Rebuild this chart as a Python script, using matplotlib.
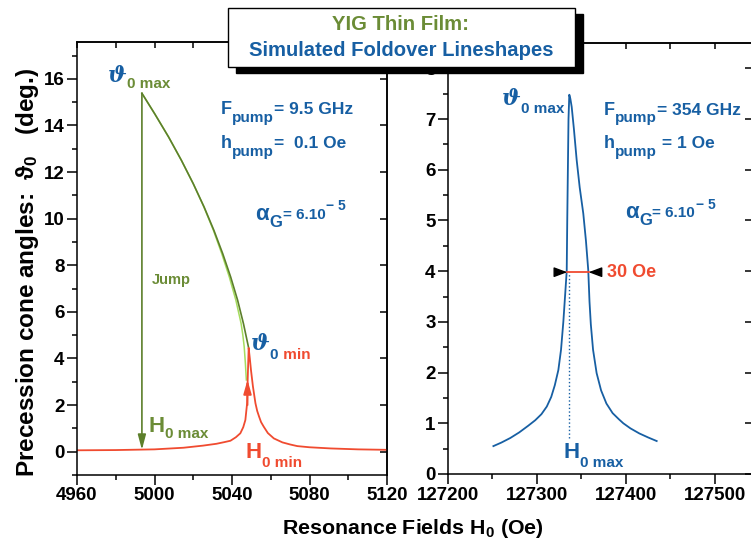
import matplotlib.pyplot as plt
from matplotlib.ticker import MultipleLocator
from matplotlib.patches import Rectangle

plt.rcParams['font.family'] = ['Liberation Sans', 'DejaVu Sans']
plt.rcParams['font.weight'] = 'bold'
plt.rcParams['mathtext.fontset'] = 'custom'
plt.rcParams['mathtext.rm'] = 'Liberation Sans:bold'
plt.rcParams['mathtext.it'] = 'Liberation Sans:bold'
plt.rcParams['mathtext.bf'] = 'Liberation Sans:bold'

BLUE = '#175fa3'
OLIVE = '#6b8c36'
DKGREEN = '#5c7f2b'
LTGREEN = '#a5dc5e'
RED = '#f04b30'
THETA_FONT = 'DejaVu Serif'

# ---- 9.5 GHz foldover (left panel) ----
red_x = [4960, 4980, 5000, 5015, 5025, 5032, 5036, 5039.2, 5042, 5044.3, 5045.8,
         5046.9, 5047.8, 5048.1, 5048.4, 5048.6, 5049.2, 5049.8, 5050.8, 5052.1,
         5053, 5054, 5055, 5056.4, 5058.5, 5061.6, 5066, 5070, 5073.7, 5080,
         5090.9, 5105, 5120]
red_y = [0.06, 0.07, 0.1, 0.17, 0.26, 0.34, 0.41, 0.47, 0.62, 0.79, 1.05,
         1.36, 2.08, 3.1, 3.9, 4.45, 4.0, 3.5, 2.8, 2.08,
         1.75, 1.5, 1.27, 1.07, 0.8, 0.57, 0.4, 0.31, 0.24, 0.19,
         0.14, 0.1, 0.08]

# stable upper branch (dark green)
upper_x = [4993.5, 5000.1, 5007.3, 5013.9, 5020.0, 5025.6, 5030.65, 5035.2,
           5039.3, 5042.9, 5045.9, 5048.6]
upper_y = [15.38, 14.5, 13.5, 12.5, 11.5, 10.5, 9.5, 8.5,
           7.5, 6.5, 5.5, 4.45]

# unstable branch (light green)
unstable_x = [4993.5, 5000.1, 5007.3, 5013.9, 5020.0, 5025.5, 5030.4, 5034.7,
              5038.6, 5042.0, 5044.7, 5045.6, 5046.3, 5046.9, 5047.4]
unstable_y = [15.38, 14.5, 13.5, 12.5, 11.5, 10.5, 9.5, 8.5,
              7.5, 6.5, 5.5, 5.0, 4.5, 3.8, 3.08]

jump_x = 4993.5
jump_top, jump_bottom = 15.38, 0.08
rise_x = 5048.0
rise_bottom, rise_top = 2.0, 3.08

# ---- 354 GHz lineshape (right panel) ----
blue_x = [127251, 127260, 127270, 127280, 127290, 127298, 127305, 127311, 127316,
          127320, 127324, 127327, 127329.6, 127331.5, 127333.4, 127334, 127334.7,
          127335.4, 127336.3, 127337.5, 127339, 127341.5, 127344.6, 127348, 127352,
          127355, 127357.6, 127359, 127360.5, 127363, 127367, 127372, 127378,
          127385, 127392, 127397, 127405, 127415, 127425, 127434.5]
blue_y = [0.55, 0.62, 0.71, 0.82, 0.95, 1.06, 1.18, 1.33, 1.52,
          1.75, 2.05, 2.45, 3.0, 3.5, 4.0, 5.0, 6.0,
          7.0, 7.48, 7.4, 7.24, 6.8, 6.19, 5.65, 5.14,
          4.6, 4.02, 3.4, 2.95, 2.45, 1.99, 1.65, 1.39,
          1.2, 1.08, 1.0, 0.9, 0.8, 0.72, 0.65]

h0max_x = 127335.6
h0max_bottom = 0.71
fwhm_y = 3.98
fwhm_left, fwhm_right = 127334, 127358


def rich(ax, x, y, segs):
    # chain text pieces left to right, dy in points from the first baseline
    prev = None
    for seg in segs:
        txt, size, color, dy = seg[:4]
        kw = dict(fontsize=size, color=color, fontweight='bold', ha='left', va='baseline')
        if len(seg) > 4:
            kw['family'] = seg[4]
            kw['style'] = 'italic'
        if prev is None:
            prev = ax.text(x, y, txt, **kw)
        else:
            prev = ax.annotate(txt, xy=(1, y), xycoords=(prev, 'data'),
                               xytext=(0.3, dy), textcoords='offset points', **kw)
    return prev


def style_axes(ax, xmaj, xmin, ymaj, ymin):
    for s in ax.spines.values():
        s.set_linewidth(1.1)
    ax.xaxis.set_major_locator(MultipleLocator(xmaj))
    ax.xaxis.set_minor_locator(MultipleLocator(xmin))
    ax.yaxis.set_major_locator(MultipleLocator(ymaj))
    ax.yaxis.set_minor_locator(MultipleLocator(ymin))
    ax.tick_params(which='both', direction='out', width=1.1, labelsize=13.5, pad=2)
    ax.tick_params(which='major', length=7)
    ax.tick_params(which='minor', length=3.5)
    top = ax.secondary_xaxis('top')
    top.xaxis.set_major_locator(MultipleLocator(xmaj))
    top.xaxis.set_minor_locator(MultipleLocator(xmin))
    top.tick_params(which='both', direction='in', width=1.1, length=4.5, labeltop=False)
    top.spines['top'].set_linewidth(1.1)
    right = ax.secondary_yaxis('right')
    right.yaxis.set_major_locator(MultipleLocator(ymaj))
    right.tick_params(which='both', direction='in', width=1.1, length=5, labelright=False)
    right.spines['right'].set_linewidth(1.1)


fig = plt.figure(figsize=(7.51, 5.47), dpi=100)
ax1 = fig.add_axes([77 / 751, 72 / 547, 310 / 751, 433 / 547])
ax2 = fig.add_axes([448 / 751, 73 / 547, 304 / 751, 431 / 547])

# left panel
ax1.plot(unstable_x, unstable_y, color=LTGREEN, lw=1.1)
ax1.plot(upper_x, upper_y, color=DKGREEN, lw=1.2)
ax1.plot(red_x, red_y, color=RED, lw=1.3)
ax1.annotate('', xy=(jump_x, jump_bottom), xytext=(jump_x, jump_top),
             arrowprops=dict(arrowstyle='-|>,head_length=0.45,head_width=0.12',
                             mutation_scale=20, color=DKGREEN, lw=1.2, shrinkA=0, shrinkB=0))
ax1.annotate('', xy=(rise_x, rise_top), xytext=(rise_x, rise_bottom),
             arrowprops=dict(arrowstyle='-|>,head_length=0.42,head_width=0.12',
                             mutation_scale=20, color=RED, lw=1.3, shrinkA=0, shrinkB=0))
ax1.set_xlim(4960, 5120)
ax1.set_ylim(-1, 17.58)
style_axes(ax1, 40, 20, 2, 1)
ax1.set_ylabel('Precession cone angles:  $\\vartheta_0$   (deg.)', fontsize=17.5, fontweight='bold')
ax1.yaxis.set_label_coords(-0.115, 0.467)

rich(ax1, 4975.7, 15.87, [('ϑ', 16, BLUE, 0, THETA_FONT), ('0 max', 11, OLIVE, -4.3)])
rich(ax1, 5034.0, 14.48, [('F', 13, BLUE, 0), ('pump', 11, BLUE, -5.3), ('= 9.5 GHz', 12.5, BLUE, 0)])
rich(ax1, 5034.0, 13.02, [('h', 13, BLUE, 0), ('pump', 11, BLUE, -5.3), ('=  0.1 Oe', 12.5, BLUE, 0)])
rich(ax1, 5052.1, 9.94, [('α', 16, BLUE, 0), ('G', 12, BLUE, -5), ('= 6.10', 11, BLUE, 1),
                         ('− 5', 10, BLUE, 7)])
rich(ax1, 4998.8, 7.2, [('Jump', 10.5, OLIVE, 0)])
rich(ax1, 5049.5, 4.36, [('ϑ', 16, BLUE, 0, THETA_FONT), ('0', 11, BLUE, -6.5), (' min', 11, RED, -6.5)])
rich(ax1, 4996.9, 0.86, [('H', 16, OLIVE, 0), ('0 max', 11, OLIVE, -4.8)])
rich(ax1, 5046.9, -0.28, [('H', 16, RED, 0), ('0 min', 11, RED, -6)])

# right panel
ax2.plot(blue_x, blue_y, color=BLUE, lw=1.3)
ax2.plot([h0max_x, h0max_x], [h0max_bottom, fwhm_y], color=BLUE, lw=1, ls=':')
ax2.plot([fwhm_left, fwhm_right], [fwhm_y, fwhm_y], color=RED, lw=1.3)
ax2.annotate('', xy=(fwhm_left, fwhm_y), xytext=(fwhm_left - 13, fwhm_y),
             arrowprops=dict(arrowstyle='-|>,head_length=0.4,head_width=0.15',
                             mutation_scale=20, color='black', lw=1, shrinkA=0, shrinkB=0))
ax2.annotate('', xy=(fwhm_right, fwhm_y), xytext=(fwhm_right + 13, fwhm_y),
             arrowprops=dict(arrowstyle='-|>,head_length=0.4,head_width=0.15',
                             mutation_scale=20, color='black', lw=1, shrinkA=0, shrinkB=0))
ax2.set_xlim(127200, 127541.6)
ax2.set_ylim(0, 8.5)
style_axes(ax2, 100, 50, 1, 0.5)

rich(ax2, 127260.7, 7.28, [('ϑ', 16, BLUE, 0, THETA_FONT), ('0 max', 11, BLUE, -5.8)])
rich(ax2, 127374.5, 7.08, [('F', 13, BLUE, 0), ('pump', 11, BLUE, -5.3), ('= 354 GHz', 12.5, BLUE, 0)])
rich(ax2, 127374.5, 6.42, [('h', 13, BLUE, 0), ('pump', 11, BLUE, -5.3), (' = 1 Oe', 12.5, BLUE, 0)])
rich(ax2, 127398.9, 5.04, [('α', 16, BLUE, 0), ('G', 12, BLUE, -5), ('= 6.10', 11, BLUE, 1),
                           ('− 5', 10, BLUE, 7)])
ax2.text(127378.7, fwhm_y, '30 Oe', color=RED, fontsize=13, fontweight='bold', ha='left', va='center')
rich(ax2, 127329.6, 0.31, [('H', 16, BLUE, 0), ('0 max', 11, BLUE, -6)])

fig.text(413 / 751, 1 - 528 / 547, 'Resonance Fields H$_0$ (Oe)', fontsize=15.4,
         fontweight='bold', ha='center', va='center')

# title box with drop shadow
fig.add_artist(Rectangle((236 / 751, 1 - 73 / 547), 347 / 751, 59 / 547,
                         transform=fig.transFigure, facecolor='black', edgecolor='black', zorder=10))
fig.add_artist(Rectangle((228 / 751, 1 - 67 / 547), 347 / 751, 59 / 547,
                         transform=fig.transFigure, facecolor='white', edgecolor='black',
                         lw=1, zorder=11))
fig.text(400 / 751, 1 - 24 / 547, 'YIG Thin Film:', color=OLIVE, fontsize=14.6,
         fontweight='bold', ha='center', va='center', zorder=12)
fig.text(401 / 751, 1 - 51 / 547, 'Simulated Foldover Lineshapes', color=BLUE, fontsize=14.6,
         fontweight='bold', ha='center', va='center', zorder=12)

fig.savefig('out.png', dpi=100)
